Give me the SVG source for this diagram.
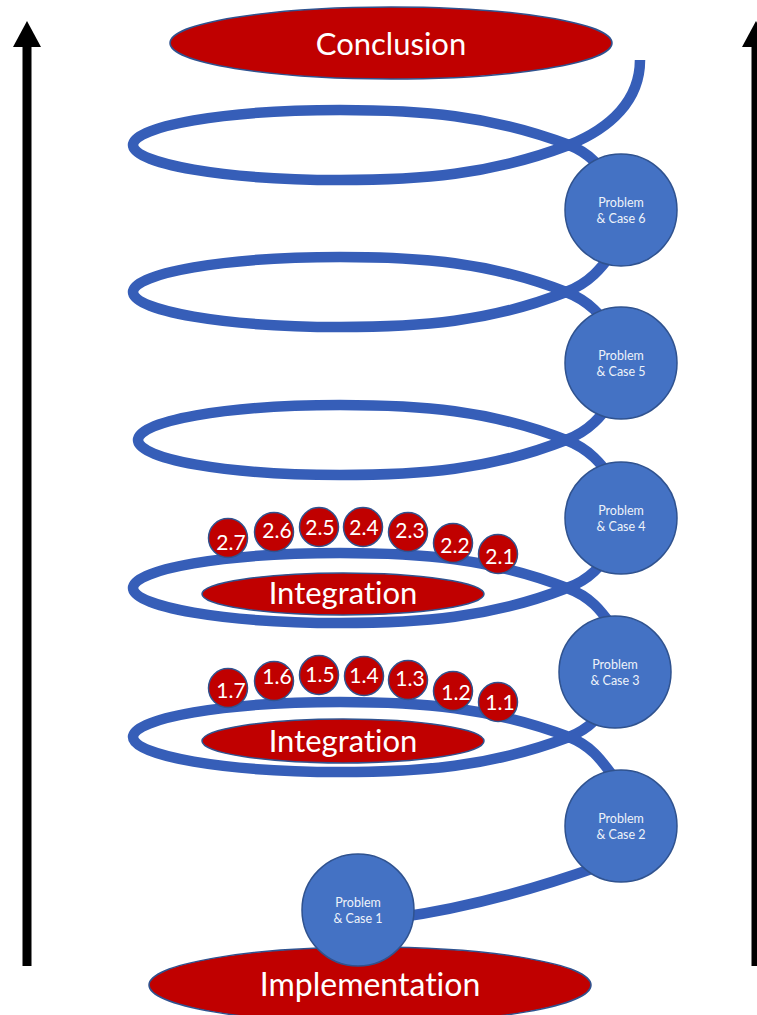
<svg xmlns="http://www.w3.org/2000/svg" width="757" height="1015" viewBox="0 0 757 1015">
<style>
.spiral{fill:none;stroke:#365EB8;stroke-width:10.5;stroke-linecap:butt}
.red{fill:#C00000;stroke:#2F528F;stroke-width:1.5}
.blue{fill:#4472C4;stroke:#2F528F;stroke-width:1.5}
.big{font-family:Lato,"Liberation Sans",sans-serif;fill:#fff;text-anchor:middle;font-variant-ligatures:none;font-feature-settings:"liga" 0}
.t30{font-size:31px}
.t32{font-size:32px}
.t20{font-size:21px}
.t12{font-size:12.5px;fill:#EEF2FA}
.axis{stroke:#000;stroke-width:9;fill:none}
</style>
<defs>
<marker id="head" viewBox="0 0 26 28" refX="0" refY="14" markerWidth="26" markerHeight="28" markerUnits="userSpaceOnUse" orient="auto">
<path d="M0,0 L26,14 L0,28 z" fill="#000"/>
</marker>
</defs>
<rect width="757" height="1015" fill="#fff"/>
<g id="axes">
<line class="axis" x1="27" y1="966" x2="27" y2="47" marker-end="url(#head)"/>
<line class="axis" x1="756" y1="966" x2="756" y2="47" marker-end="url(#head)"/>
</g>
<g id="connectors">
<path class="spiral" d="M395 918 Q490 905 600 866"/>
<path class="spiral" d="M625 792 C605 767 597 748 569 737 C490 707 420 702 340 702 C226 702 133 718 133 737 C133 756 226 772 340 772 C420 772 490 767 569 737 C597 726 605 707 625 682"/>
<path class="spiral" d="M625 643 C605 618 597 599 567 588 C490 558 420 553 340 553 C226 553 133 569 133 588 C133 607 226 623 340 623 C420 623 490 618 567 588 C597 577 605 558 625 533"/>
<path class="spiral" d="M625 495 C605 470 595 451 566 440 C490 410 420 405 340 405 C226 405 138 421 138 440 C138 459 226 475 340 475 C420 475 490 470 566 440 C595 429 605 410 625 385"/>
<path class="spiral" d="M625 347 C605 322 595 303 566 292 C490 262 420 257 340 257 C226 257 133 273 133 292 C133 311 226 327 340 327 C420 327 490 322 566 292 C595 281 605 262 625 237"/>
<path class="spiral" d="M625 200 C605 175 597 156 569 145 C490 115 420 110 340 110 C226 110 133 126 133 145 C133 164 226 180 340 180 C420 180 490 175 569 145 C611 128 640 100 640 60"/>
</g>
<g id="integration-2">
<ellipse class="red" cx="343" cy="594" rx="141" ry="21"/>
<text class="big t30" x="343" y="604">Integration</text>
</g>
<g id="integration-1">
<ellipse class="red" cx="343" cy="741" rx="141" ry="22"/>
<text class="big t30" x="343" y="752">Integration</text>
</g>
<g id="step-2-7"><circle class="red" cx="228" cy="538" r="19.5"/><text class="big t20" x="231" y="550">2.7</text></g>
<g id="step-2-6"><circle class="red" cx="274" cy="532" r="19.5"/><text class="big t20" x="277" y="538">2.6</text></g>
<g id="step-2-5"><circle class="red" cx="319" cy="527" r="19.5"/><text class="big t20" x="320" y="535">2.5</text></g>
<g id="step-2-4"><circle class="red" cx="363" cy="527" r="19.5"/><text class="big t20" x="364" y="535">2.4</text></g>
<g id="step-2-3"><circle class="red" cx="408" cy="532" r="19.5"/><text class="big t20" x="410" y="538">2.3</text></g>
<g id="step-2-2"><circle class="red" cx="453" cy="543" r="19.5"/><text class="big t20" x="455" y="553">2.2</text></g>
<g id="step-2-1"><circle class="red" cx="498" cy="554" r="19.5"/><text class="big t20" x="500" y="564">2.1</text></g>
<g id="step-1-7"><circle class="red" cx="228" cy="688" r="19.5"/><text class="big t20" x="231" y="698">1.7</text></g>
<g id="step-1-6"><circle class="red" cx="274" cy="681" r="19.5"/><text class="big t20" x="277" y="684">1.6</text></g>
<g id="step-1-5"><circle class="red" cx="319" cy="675" r="19.5"/><text class="big t20" x="320" y="682">1.5</text></g>
<g id="step-1-4"><circle class="red" cx="364" cy="676" r="19.5"/><text class="big t20" x="364" y="683">1.4</text></g>
<g id="step-1-3"><circle class="red" cx="408" cy="680" r="19.5"/><text class="big t20" x="410" y="686">1.3</text></g>
<g id="step-1-2"><circle class="red" cx="453" cy="691" r="19.5"/><text class="big t20" x="456" y="700">1.2</text></g>
<g id="step-1-1"><circle class="red" cx="498" cy="702" r="19.5"/><text class="big t20" x="500" y="710">1.1</text></g>
<g id="case-6"><circle class="blue" cx="621" cy="210" r="56"/><text class="big t12" x="621" y="207">Problem</text><text class="big t12" x="621" y="223">&amp; Case 6</text></g>
<g id="case-5"><circle class="blue" cx="621" cy="363" r="56"/><text class="big t12" x="621" y="360">Problem</text><text class="big t12" x="621" y="376">&amp; Case 5</text></g>
<g id="case-4"><circle class="blue" cx="621" cy="518" r="56"/><text class="big t12" x="621" y="515">Problem</text><text class="big t12" x="621" y="531">&amp; Case 4</text></g>
<g id="case-3"><circle class="blue" cx="615" cy="672" r="56"/><text class="big t12" x="615" y="669">Problem</text><text class="big t12" x="615" y="685">&amp; Case 3</text></g>
<g id="case-2"><circle class="blue" cx="621" cy="826" r="56"/><text class="big t12" x="621" y="823">Problem</text><text class="big t12" x="621" y="839">&amp; Case 2</text></g>
<g id="conclusion">
<ellipse class="red" cx="391" cy="43" rx="221" ry="36"/>
<text class="big t30" x="391" y="55">Conclusion</text>
</g>
<g id="implementation">
<ellipse class="red" cx="370" cy="985" rx="221" ry="38"/>
<text class="big t32" x="370" y="996">Implementation</text>
</g>
<g id="case-1"><circle class="blue" cx="358" cy="910" r="56"/><text class="big t12" x="358" y="907">Problem</text><text class="big t12" x="358" y="923">&amp; Case 1</text></g>
</svg>
